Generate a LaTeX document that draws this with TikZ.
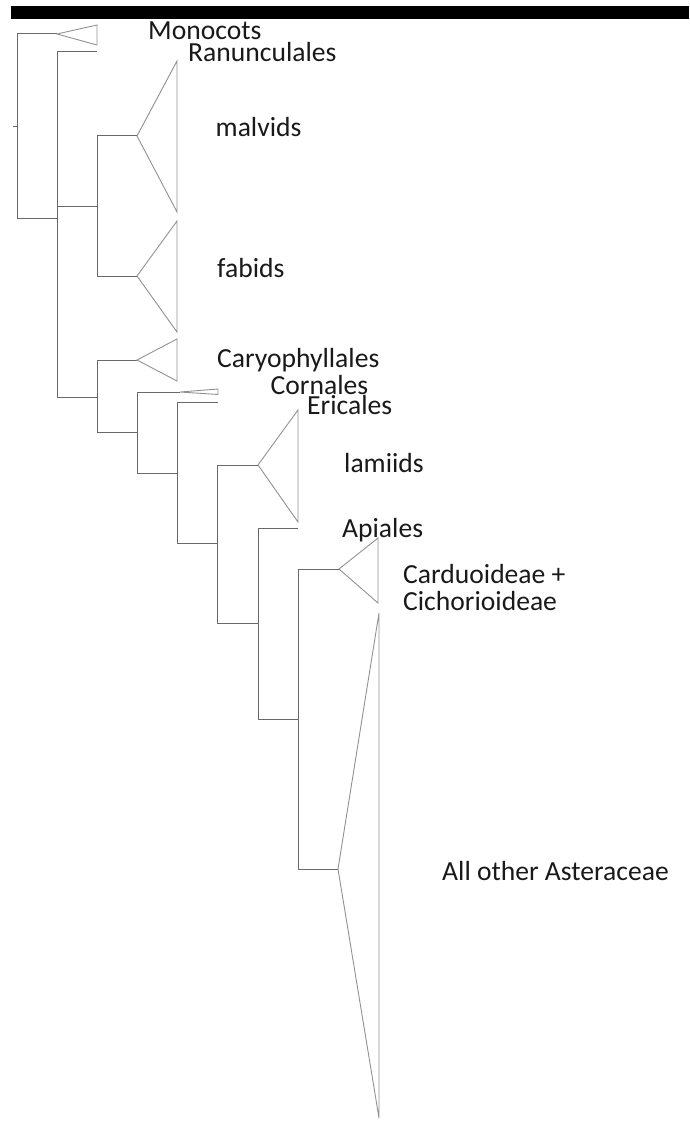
\documentclass[tikz,border=0pt]{standalone}
\usepackage{fontspec}
\setmainfont{Carlito}
\definecolor{treegray}{RGB}{105,105,105}
\definecolor{trilight}{RGB}{145,145,145}
\newcommand{\cladetri}[4]{\draw[clade] (#1) -- (#2,#3) -- (#2,#4) -- cycle;}
\begin{document}
\begin{tikzpicture}[x=1pt,y=-1pt,
  br/.style={draw=treegray,line width=1pt},
  clade/.style={draw=trilight,line width=0.9pt,line join=miter},
  lbl/.style={anchor=base west,inner sep=0pt,font=\fontsize{27.6}{27.6}\selectfont,text=black!90}]
\useasboundingbox (0,0) rectangle (689,1126);
\fill[black] (11,6) rectangle (689,19);

% root
\coordinate (rs) at (13,127);
\coordinate (r) at (17,127);
\coordinate (ra) at (17,34);
\coordinate (rb) at (17,218);
\draw[br] (rs) -- (r);
\draw[br] (ra) -- (rb);
% Monocots
\coordinate (mono) at (57,34);
\draw[br] (ra) -- (mono);
\cladetri{mono}{97}{25}{45}
% node n1
\coordinate (n1) at (57,218);
\coordinate (n1a) at (57,52);
\coordinate (n1b) at (57,397);
\coordinate (n1r) at (57,206);
\draw[br] (rb) -- (n1);
\draw[br] (n1a) -- (n1b);
% Ranunculales
\coordinate (ran) at (97,52);
\draw[br] (n1a) -- (ran);
% rosids
\coordinate (ros) at (97,206);
\coordinate (rosa) at (97,136);
\coordinate (rosb) at (97,276);
\draw[br] (n1r) -- (ros);
\draw[br] (rosa) -- (rosb);
\coordinate (mal) at (137,136);
\coordinate (fab) at (137,276);
\draw[br] (rosa) -- (mal);
\draw[br] (rosb) -- (fab);
\cladetri{mal}{177}{61}{212}
\cladetri{fab}{177}{221}{332}
% lower clade
\coordinate (n2) at (97,397);
\coordinate (n2a) at (97,360);
\coordinate (n2b) at (97,432);
\draw[br] (n1b) -- (n2);
\draw[br] (n2a) -- (n2b);
\coordinate (car) at (137,360);
\draw[br] (n2a) -- (car);
\cladetri{car}{177}{339}{381}
% asterids
\coordinate (n3) at (137,432);
\coordinate (n3a) at (137,392);
\coordinate (n3b) at (137,473);
\draw[br] (n2b) -- (n3);
\draw[br] (n3a) -- (n3b);
\coordinate (cor) at (180,392);
\draw[br] (n3a) -- (cor);
\cladetri{cor}{218}{389}{394.5}
\coordinate (n4) at (177,473);
\coordinate (n4a) at (177,402);
\coordinate (n4b) at (177,543);
\draw[br] (n3b) -- (n4);
\draw[br] (n4a) -- (n4b);
\coordinate (eri) at (218,402);
\draw[br] (n4a) -- (eri);
\coordinate (n5) at (217,543);
\coordinate (n5a) at (217,465);
\coordinate (n5b) at (217,623);
\draw[br] (n4b) -- (n5);
\draw[br] (n5a) -- (n5b);
\coordinate (lam) at (258,465);
\draw[br] (n5a) -- (lam);
\cladetri{lam}{298}{410}{522}
\coordinate (n6) at (258,623);
\coordinate (n6a) at (258,528);
\coordinate (n6b) at (258,719);
\draw[br] (n5b) -- (n6);
\draw[br] (n6a) -- (n6b);
\coordinate (api) at (298,528);
\draw[br] (n6a) -- (api);
\coordinate (n7) at (298,719);
\coordinate (n7a) at (298,569);
\coordinate (n7b) at (298,869);
\draw[br] (n6b) -- (n7);
\draw[br] (n7a) -- (n7b);
\coordinate (cc) at (339,569);
\draw[br] (n7a) -- (cc);
\cladetri{cc}{378}{538}{603}
\coordinate (ast) at (338,869);
\draw[br] (n7b) -- (ast);
\cladetri{ast}{379}{613}{1118}

% labels
\node[lbl] (Lmono) at (148,40) {Monocots};
\node[lbl] (Lran) at (188,62) {Ranunculales};
\node[lbl] (Lmal) at (215.5,137) {malvids};
\node[lbl] (Lfab) at (217,277) {fabids};
\node[lbl] (Lcary) at (217,367) {Caryophyllales};
\node[lbl] (Lcor) at (270.5,394) {Cornales};
\node[lbl] (Leri) at (307,414) {Ericales};
\node[lbl] (Llam) at (344,472) {lamiids};
\node[lbl] (Lapi) at (342,537) {Apiales};
\node[lbl] (Lcc1) at (403,583) {Carduoideae +};
\node[lbl] (Lcc2) at (403,610) {Cichorioideae};
\node[lbl] (Lall) at (442,880) {All other Asteraceae};
\end{tikzpicture}
\end{document}
